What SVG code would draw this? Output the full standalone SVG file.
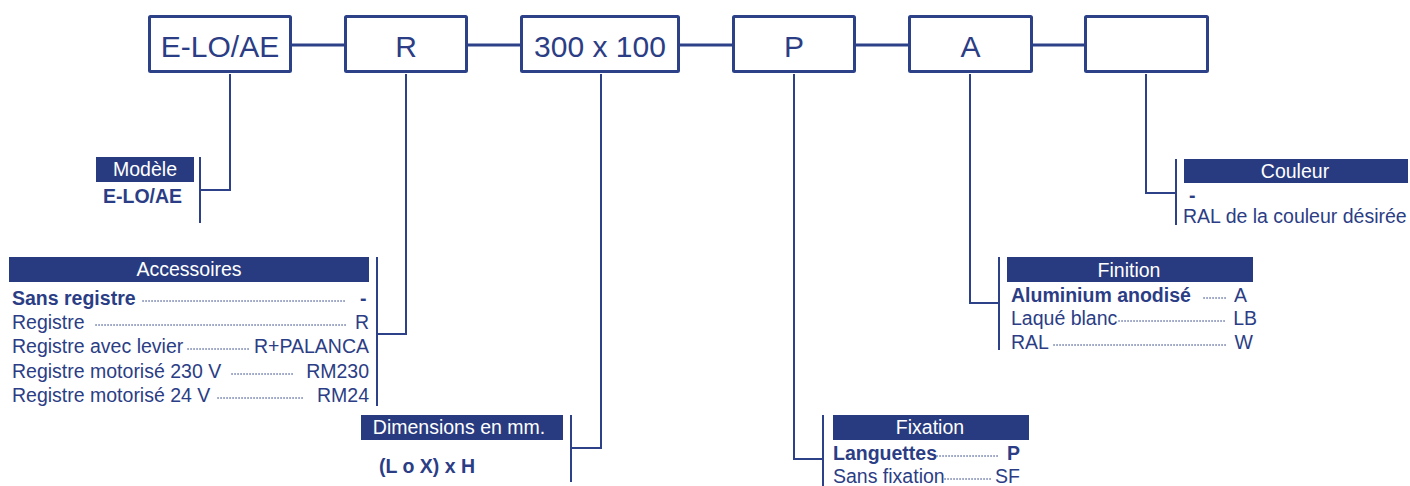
<svg xmlns="http://www.w3.org/2000/svg" width="1410" height="486" viewBox="0 0 1410 486">
<style>
.box{fill:#fff;stroke:#2d4189;stroke-width:3}
.bt{font-family:"Liberation Sans",Arial,sans-serif;font-size:30px;fill:#2b3d85;text-anchor:middle}
.hd{fill:#293b80}
.ht{font-family:"Liberation Sans",Arial,sans-serif;font-size:19.5px;fill:#fff;text-anchor:middle}
.t{font-family:"Liberation Sans",Arial,sans-serif;font-size:19.5px;fill:#2b3d85}
.b{font-weight:bold}
.r{text-anchor:end}
.dot{stroke:#2b3d85;stroke-width:1.4;stroke-dasharray:0.1 2.9;stroke-linecap:round;fill:none}
.thick{stroke:#2d4189;stroke-width:3;fill:none}
.thin{stroke:#2d4189;stroke-width:2;fill:none}
</style>
<rect width="1410" height="486" fill="#fff"/>
<g id="connectors">
  <path class="thick" d="M292,45H344M468,45H520M680,45H732M856,45H908M1033,45H1084"/>
  <path class="thin" d="M230,74V190H200M200,157V223"/>
  <path class="thin" d="M406,74V334H377M377,257V406"/>
  <path class="thin" d="M601,74V448H571M571,415V482"/>
  <path class="thin" d="M794,74V459H823M823,415V486"/>
  <path class="thin" d="M970,74V303H999M999,257V350"/>
  <path class="thin" d="M1146,74V193H1176M1176,159V225"/>
</g>
<g id="box-model"><rect class="box" x="149.5" y="16.5" width="141" height="55" rx="1"/><text class="bt" x="220" y="57">E-LO/AE</text></g>
<g id="box-accessory"><rect class="box" x="345.5" y="16.5" width="121" height="55" rx="1"/><text class="bt" x="406" y="57">R</text></g>
<g id="box-dimensions"><rect class="box" x="521.5" y="16.5" width="157" height="55" rx="1"/><text class="bt" x="600" y="57">300 x 100</text></g>
<g id="box-fixation"><rect class="box" x="733.5" y="16.5" width="121" height="55" rx="1"/><text class="bt" x="794" y="57">P</text></g>
<g id="box-finition"><rect class="box" x="909.5" y="16.5" width="122" height="55" rx="1"/><text class="bt" x="970.5" y="57">A</text></g>
<g id="box-couleur"><rect class="box" x="1085.5" y="16.5" width="122" height="55" rx="1"/></g>

<g id="modele">
  <rect class="hd" x="96" y="157" width="98" height="25"/>
  <text class="ht" x="145" y="176">Modèle</text>
  <text class="t b" x="103" y="203">E-LO/AE</text>
</g>
<g id="accessoires">
  <rect class="hd" x="9" y="257" width="360" height="25"/>
  <text class="ht" x="189" y="276">Accessoires</text>
  <text class="t b" x="12" y="305">Sans registre</text>
  <line class="dot" x1="143" y1="301" x2="346" y2="301"/>
  <text class="t b" x="360" y="305">-</text>
  <text class="t" x="12" y="329">Registre</text>
  <line class="dot" x1="96" y1="325" x2="347" y2="325"/>
  <text class="t r" x="369" y="329">R</text>
  <text class="t" x="12" y="353">Registre avec levier</text>
  <line class="dot" x1="188" y1="349" x2="251" y2="349"/>
  <text class="t r" x="369" y="353">R+PALANCA</text>
  <text class="t" x="12" y="378">Registre motorisé 230 V</text>
  <line class="dot" x1="232" y1="374" x2="293" y2="374"/>
  <text class="t r" x="369" y="378">RM230</text>
  <text class="t" x="12" y="402">Registre motorisé 24 V</text>
  <line class="dot" x1="218" y1="398" x2="305" y2="398"/>
  <text class="t r" x="369" y="402">RM24</text>
</g>
<g id="dimensions">
  <rect class="hd" x="361" y="415" width="202" height="25"/>
  <text class="ht" x="459" y="434">Dimensions en mm.</text>
  <text class="t b" x="379" y="473">(L o X) x H</text>
</g>
<g id="fixation">
  <rect class="hd" x="833" y="415" width="196" height="25"/>
  <text class="ht" x="930" y="434">Fixation</text>
  <text class="t b" x="833" y="460">Languettes</text>
  <line class="dot" x1="937" y1="456" x2="1000" y2="456"/>
  <text class="t b r" x="1020" y="460">P</text>
  <text class="t" x="833" y="483">Sans fixation</text>
  <line class="dot" x1="945" y1="479" x2="993" y2="479"/>
  <text class="t r" x="1020" y="483">SF</text>
</g>
<g id="finition">
  <rect class="hd" x="1007" y="257" width="246" height="25"/>
  <text class="ht" x="1129" y="277">Finition</text>
  <text class="t b" x="1011" y="302">Aluminium anodisé</text>
  <line class="dot" x1="1204" y1="298" x2="1228" y2="298"/>
  <text class="t r" x="1247" y="302">A</text>
  <text class="t" x="1011" y="325">Laqué blanc</text>
  <line class="dot" x1="1119" y1="321" x2="1227" y2="321"/>
  <text class="t r" x="1257" y="325">LB</text>
  <text class="t" x="1011" y="349">RAL</text>
  <line class="dot" x1="1054" y1="345" x2="1227" y2="345"/>
  <text class="t r" x="1253" y="349">W</text>
</g>
<g id="couleur">
  <rect class="hd" x="1184" y="159" width="224" height="24"/>
  <text class="ht" x="1295" y="178">Couleur</text>
  <text class="t b" x="1189" y="202">-</text>
  <text class="t" x="1183" y="223">RAL de la couleur désirée</text>
</g>
</svg>
